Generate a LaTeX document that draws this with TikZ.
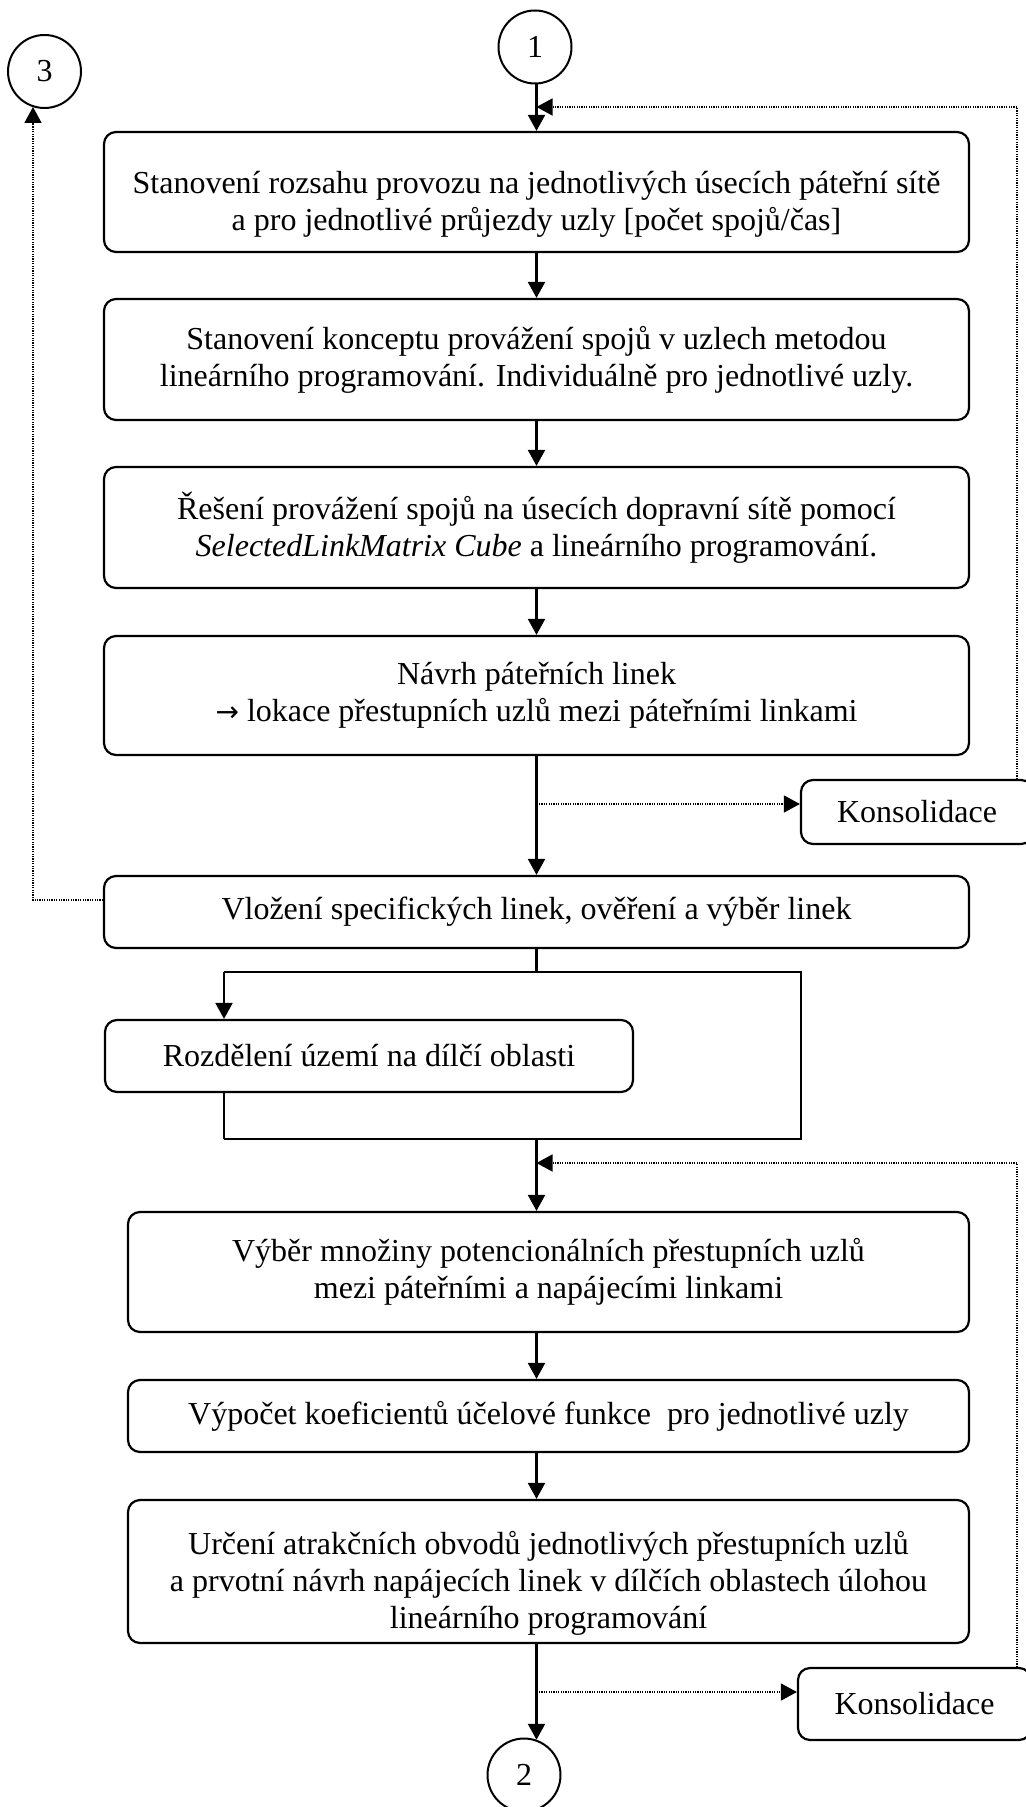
\documentclass[tikz,border=0pt]{standalone}
\usepackage{fontspec}
\setmainfont{Liberation Serif}
\newfontfamily\arrowfont{DejaVu Sans}
\usetikzlibrary{arrows.meta}

\begin{document}
\begin{tikzpicture}[x=0.5pt,y=-0.5pt,
  txt/.style={font=\fontsize{16}{18.4}\selectfont},
  box/.style={txt, draw, line width=1.1pt, rounded corners=6pt, align=center, inner sep=0pt},
  conn/.style={circle, draw, line width=1pt, minimum size=36.5pt, inner sep=0pt, txt},
  flow/.style={draw, line width=1.1pt, -{Triangle[length=8pt,width=8.5pt]}},
  plain/.style={draw, line width=1.1pt},
  fb/.style={draw, line width=0.7pt, dash pattern=on 0.6pt off 0.6pt, -{Triangle[length=8pt,width=8.5pt]}}
]
\useasboundingbox (0,0) rectangle (1026,1807);

% connectors between pages
\node[conn] (c1) at (535,47) {1};
\node[conn] (c3) at (44.5,71.5) {3};
\node[conn] (c2) at (524,1775) {2};

% backbone network steps
\node[box, minimum width=432.5pt, minimum height=60pt] (b1) at (536.5,192)
  {\rule{0pt}{23.5pt}Stanovení rozsahu provozu na jednotlivých úsecích páteřní sítě\\a pro jednotlivé průjezdy uzly [počet spojů/čas]};
\node[box, minimum width=432.5pt, minimum height=60.5pt] (b2) at (536.5,359.5)
  {Stanovení konceptu provážení spojů v uzlech metodou\\lineárního programování. Individuálně pro jednotlivé uzly.};
\node[box, minimum width=432.5pt, minimum height=60.5pt] (b3) at (536.5,527.5)
  {Řešení provážení spojů na úsecích dopravní sítě pomocí\\\textit{SelectedLinkMatrix Cube} a lineárního programování.};
\node[box, minimum width=432.5pt, minimum height=59.5pt] (b4) at (536.5,695.5)
  {Návrh páteřních linek\\{\arrowfont\fontsize{14}{14}\selectfont →} lokace přestupních uzlů mezi páteřními linkami};
\node[box, minimum width=432.5pt, minimum height=36pt] (b5) at (536.5,912)
  {Vložení specifických linek, ověření a výběr linek};
\node[box, minimum width=264pt, minimum height=36pt] (b6) at (369,1056)
  {Rozdělení území na dílčí oblasti};

% feeder network steps
\node[box, minimum width=420.5pt, minimum height=60pt] (b7) at (548.5,1272)
  {Výběr množiny potencionálních přestupních uzlů\\mezi páteřními a napájecími linkami};
\node[box, minimum width=420.5pt, minimum height=36pt] (b8) at (548.5,1416)
  {Výpočet koeficientů účelové funkce\ \ pro jednotlivé uzly};
\node[box, minimum width=420.5pt, minimum height=71.5pt] (b9) at (548.5,1571.5)
  {\rule{0pt}{23.5pt}Určení atrakčních obvodů jednotlivých přestupních uzlů\\a prvotní návrh napájecích linek v dílčích oblastech úlohou\\lineárního programování};

% consolidation boxes
\node[box, minimum width=116pt, minimum height=32pt] (k1) at (917,812) {Konsolidace};
\node[box, minimum width=116.5pt, minimum height=36pt] (k2) at (914.5,1704) {Konsolidace};

% helper points
\coordinate (fb1) at (1017,107);
\coordinate (t1) at (536.5,804);
\coordinate (l3) at (33,900);
\coordinate (sL) at (224,972);
\coordinate (sR) at (801,972);
\coordinate (mL) at (224,1139);
\coordinate (mR) at (801,1139);
\coordinate (fb2) at (1017,1163);
\coordinate (t2) at (536.5,1692);

% main flow
\draw[flow] (b1.north |- c1.south) -- (b1.north);
\draw[flow] (b1.south) -- (b2.north);
\draw[flow] (b2.south) -- (b3.north);
\draw[flow] (b3.south) -- (b4.north);
\draw[flow] (b4.south) -- (b5.north);

% branch around the area division
\draw[plain] (b5.south) -- (b5.south |- sL);
\draw[plain] (sL) -- (sR) -- (mR) -- (mL);
\draw[flow] (sL) -- (sL |- b6.north);
\draw[plain] (b6.south -| mL) -- (mL);
\draw[flow] (b5.south |- mL) -- (b5.south |- b7.north);

\draw[flow] (b7.south -| t2) -- (b8.north -| t2);
\draw[flow] (b8.south -| t2) -- (b9.north -| t2);
\draw[flow] (b9.south -| t2) -- (t2 |- c2.70);

% consolidation loops
\draw[fb] (t1) -- (t1 -| k1.west);
\draw[fb] (k1.north -| fb1) -- (fb1) -- (b1.north |- fb1);
\draw[fb] (t2) -- (t2 -| k2.west);
\draw[fb] (k2.north -| fb2) -- (fb2) -- (b5.south |- fb2);

% exit to connector 3
\draw[fb] (b5.west |- l3) -- (l3) -- (l3 |- c3.251);
\end{tikzpicture}
\end{document}
